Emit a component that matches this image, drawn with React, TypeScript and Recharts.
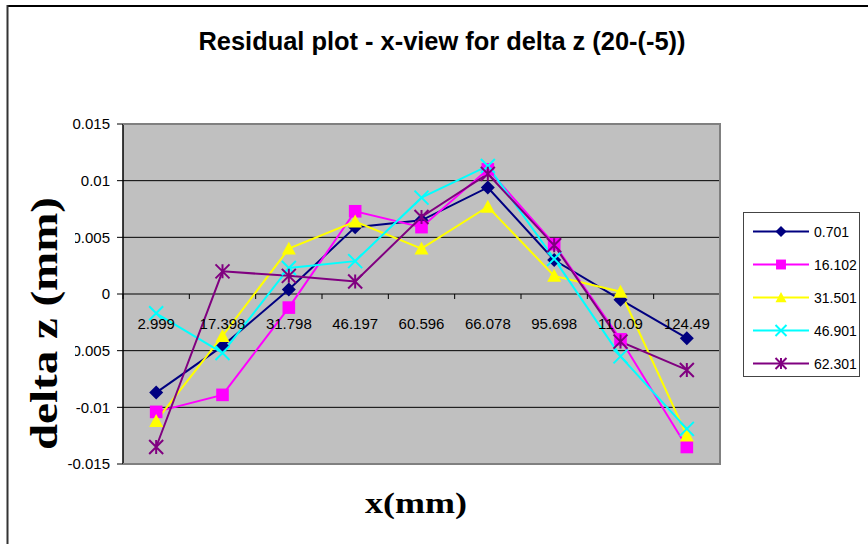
import {
  LineChart,
  Line,
  XAxis,
  YAxis,
  CartesianGrid,
  ReferenceLine,
  Legend,
} from 'recharts';

/* ------------------------------------------------------------------ */
/*  data                                                               */
/* ------------------------------------------------------------------ */
const X_LABELS = ['2.999', '17.398', '31.798', '46.197', '60.596', '66.078', '95.698', '110.09', '124.49'];

const Z_0701 = [-0.0087, -0.0046, 0.0004, 0.0059, 0.0065, 0.0094, 0.003, -0.0005, -0.0039];
const Z_16102 = [-0.0104, -0.0089, -0.0012, 0.0073, 0.0059, 0.011, 0.0044, -0.004, -0.0135];
const Z_31501 = [-0.0112, -0.0037, 0.004, 0.0064, 0.004, 0.0077, 0.0016, 0.0002, -0.0125];
const Z_46901 = [-0.0017, -0.0052, 0.0023, 0.0029, 0.0085, 0.0113, 0.0031, -0.0055, -0.0119];
const Z_62301 = [-0.0135, 0.002, 0.0016, 0.0011, 0.0068, 0.0106, 0.0043, -0.0042, -0.0067];

const Y_TICKS = [-0.015, -0.01, -0.005, 0, 0.005, 0.01, 0.015];
const GRID_LINES = [-0.01, -0.005, 0, 0.005, 0.01];

type Shape = 'diamond' | 'square' | 'triangle' | 'x' | 'star';

const SERIES: { key: string; name: string; color: string; shape: Shape; values: number[] }[] = [
  { key: 's1', name: '0.701', color: '#000080', shape: 'diamond', values: Z_0701 },
  { key: 's2', name: '16.102', color: '#FF00FF', shape: 'square', values: Z_16102 },
  { key: 's3', name: '31.501', color: '#FFFF00', shape: 'triangle', values: Z_31501 },
  { key: 's4', name: '46.901', color: '#00FFFF', shape: 'x', values: Z_46901 },
  { key: 's5', name: '62.301', color: '#800080', shape: 'star', values: Z_62301 },
];

const rows = X_LABELS.map((x, i) => {
  const row: Record<string, string | number> = { x };
  SERIES.forEach((s) => {
    row[s.key] = s.values[i];
  });
  return row;
});

/* ------------------------------------------------------------------ */
/*  layout                                                             */
/* ------------------------------------------------------------------ */
const W = 868;
const H = 544;
const PLOT_LEFT = 123;
const PLOT_RIGHT = 720;
const PLOT_TOP = 124;
const PLOT_BOTTOM = 464;
const ZERO_Y = (PLOT_TOP + PLOT_BOTTOM) / 2;
const STEP = (PLOT_RIGHT - PLOT_LEFT) / X_LABELS.length;
const SANS = '"Liberation Sans", Arial, sans-serif';
const SERIF = '"Liberation Serif", "Times New Roman", serif';

/* ------------------------------------------------------------------ */
/*  markers                                                            */
/* ------------------------------------------------------------------ */
function Marker({ shape, color, cx, cy, r }: { shape: Shape; color: string; cx: number; cy: number; r: number }) {
  switch (shape) {
    case 'diamond':
      return <polygon points={`${cx},${cy - r} ${cx + r},${cy} ${cx},${cy + r} ${cx - r},${cy}`} fill={color} />;
    case 'square':
      return <rect x={cx - r * 0.9} y={cy - r * 0.9} width={r * 1.8} height={r * 1.8} fill={color} />;
    case 'triangle':
      return (
        <polygon
          points={`${cx},${cy - r} ${cx + r},${cy + r * 0.85} ${cx - r},${cy + r * 0.85}`}
          fill={color}
        />
      );
    case 'x':
      return (
        <path
          d={`M${cx - r},${cy - r}L${cx + r},${cy + r}M${cx - r},${cy + r}L${cx + r},${cy - r}`}
          stroke={color}
          strokeWidth={2}
          fill="none"
        />
      );
    default:
      return (
        <path
          d={`M${cx - r},${cy - r}L${cx + r},${cy + r}M${cx - r},${cy + r}L${cx + r},${cy - r}M${cx},${cy - r}L${cx},${cy + r}`}
          stroke={color}
          strokeWidth={2}
          fill="none"
        />
      );
  }
}

/* x labels sit just under the zero line, with tick marks on band edges */
function XTick({ x, index }: any) {
  const last = index === X_LABELS.length - 1;
  return (
    <g>
      <line x1={x - STEP / 2} y1={ZERO_Y} x2={x - STEP / 2} y2={ZERO_Y + 5} stroke="#000" />
      {last && <line x1={x + STEP / 2} y1={ZERO_Y} x2={x + STEP / 2} y2={ZERO_Y + 5} stroke="#000" />}
      <text x={x} y={ZERO_Y + 35} textAnchor="middle" fontSize={15} fontFamily={SANS} fill="#000">
        {X_LABELS[index]}
      </text>
    </g>
  );
}

function LegendBox({ payload }: any) {
  const items = (payload || []) as { dataKey: string; value: string; color: string }[];
  return (
    <div
      style={{
        width: 115,
        height: 161,
        border: '1px solid #444',
        background: '#fff',
        paddingTop: 2,
        boxSizing: 'content-box',
      }}
    >
      {items.map((item) => {
        const s = SERIES.find((d) => d.key === item.dataKey);
        if (!s) return null;
        return (
          <div key={s.key} style={{ height: 33, display: 'flex', alignItems: 'center' }}>
            <svg width={68} height={33} style={{ display: 'block' }}>
              <line x1={9} y1={16.5} x2={65} y2={16.5} stroke={s.color} strokeWidth={2} />
              <Marker shape={s.shape} color={s.color} cx={37} cy={16.5} r={5.5} />
            </svg>
            <span style={{ fontFamily: SANS, fontSize: 14, color: '#000', marginLeft: 2 }}>{s.name}</span>
          </div>
        );
      })}
    </div>
  );
}

export default function App() {
  return (
    <div style={{ position: 'absolute', left: 0, top: 0, width: W, height: H, background: '#fff' }}>
      <LineChart
        width={W}
        height={H}
        data={rows}
        margin={{ top: PLOT_TOP, right: W - PLOT_RIGHT, bottom: H - PLOT_BOTTOM - 20, left: 0 }}
      >
        <CartesianGrid horizontal={false} vertical={false} fill="#C0C0C0" fillOpacity={1} />
        {GRID_LINES.map((v) => (
          <ReferenceLine key={v} y={v} stroke="#000" strokeWidth={1} />
        ))}
        <XAxis
          dataKey="x"
          height={20}
          interval={0}
          padding={{ left: STEP / 2, right: STEP / 2 }}
          axisLine={false}
          tickLine={false}
          tick={<XTick />}
        />
        <YAxis
          width={PLOT_LEFT}
          domain={[-0.015, 0.015]}
          ticks={Y_TICKS}
          interval={0}
          allowDataOverflow
          tickFormatter={(v: number) => String(v)}
          axisLine={{ stroke: '#000', strokeWidth: 1.5 }}
          tickLine={{ stroke: '#000' }}
          tickSize={6}
          tickMargin={7}
          tick={{ fontSize: 15, fill: '#000', fontFamily: SANS }}
        />
        <Legend
          layout="vertical"
          align="center"
          verticalAlign="middle"
          wrapperStyle={{ left: 743, top: 212, width: 117 }}
          content={<LegendBox />}
        />
        {SERIES.map((s) => (
          <Line
            key={s.key}
            dataKey={s.key}
            name={s.name}
            type="linear"
            stroke={s.color}
            strokeWidth={2}
            isAnimationActive={false}
            activeDot={false}
            dot={(p: any) => (
              <Marker key={`${s.key}-${p.index}`} shape={s.shape} color={s.color} cx={p.cx} cy={p.cy} r={7} />
            )}
          />
        ))}
      </LineChart>

      {/* titles, plot border and outer frame */}
      <svg width={W} height={H} style={{ position: 'absolute', left: 0, top: 0, pointerEvents: 'none' }}>
        <line x1={7} y1={6} x2={W} y2={6} stroke="#000" strokeWidth={2} />
        <line x1={7.5} y1={5} x2={7.5} y2={H} stroke="#333" strokeWidth={2} />
        <polyline
          points={`${PLOT_LEFT},${PLOT_TOP} ${PLOT_RIGHT},${PLOT_TOP} ${PLOT_RIGHT},${PLOT_BOTTOM} ${PLOT_LEFT},${PLOT_BOTTOM}`}
          fill="none"
          stroke="#808080"
          strokeWidth={2}
        />
        <text
          x={442}
          y={50}
          textAnchor="middle"
          fontFamily={SANS}
          fontWeight="bold"
          fontSize={25}
          textLength={487}
          lengthAdjust="spacingAndGlyphs"
          fill="#000"
        >
          Residual plot - x-view for delta z (20-(-5))
        </text>
        <rect x={22} y={192} width={53} height={262} fill="#fff" />
        <text
          transform="translate(57,323.5) rotate(-90)"
          textAnchor="middle"
          fontFamily={SERIF}
          fontWeight="bold"
          fontSize={38}
          textLength={253}
          lengthAdjust="spacingAndGlyphs"
          fill="#000"
        >
          delta z (mm)
        </text>
        <text
          x={416}
          y={513}
          textAnchor="middle"
          fontFamily={SERIF}
          fontWeight="bold"
          fontSize={30}
          textLength={102}
          lengthAdjust="spacingAndGlyphs"
          fill="#000"
        >
          x(mm)
        </text>
      </svg>
    </div>
  );
}
